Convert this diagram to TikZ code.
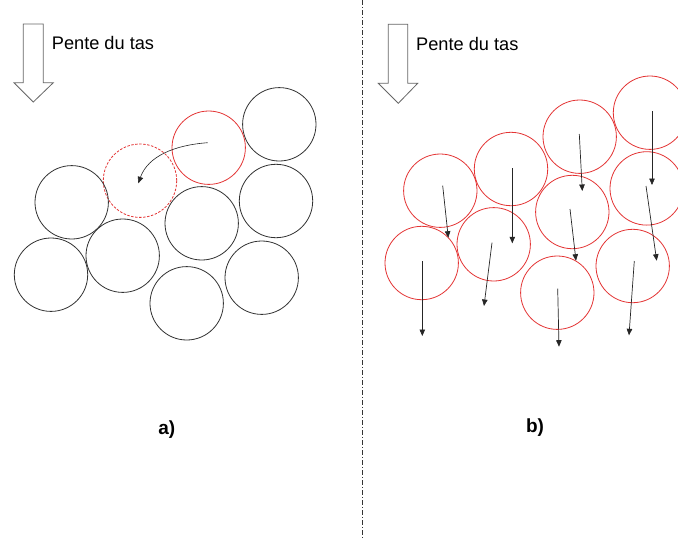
\documentclass[tikz,border=0pt]{standalone}
\usepackage{fontspec}
\setmainfont{Liberation Sans}
\usetikzlibrary{arrows.meta}
\definecolor{gred}{RGB}{228,52,52}
\definecolor{gblk}{RGB}{50,50,50}
\begin{document}
\begin{tikzpicture}[x=1pt,y=-1pt,
  grain/.style={circle,draw=gblk,line width=0.8pt,minimum size=73.4pt,inner sep=0pt},
  rgrain/.style={grain,draw=gred},
  dgrain/.style={grain,draw=gred,dashed,dash pattern=on 2.5pt off 1.5pt},
  flow/.style={-{Triangle[length=6.5pt,width=5.5pt]},line width=0.7pt,black!85},
  slope/.style={draw=black!60,line width=0.8pt,fill=white},
  lbl/.style={anchor=base west,font=\fontsize{18.2}{21}\selectfont,inner sep=0pt},
  sub/.style={font=\bfseries\fontsize{19}{22}\selectfont,inner sep=0pt}]
\useasboundingbox (0,0) rectangle (678,539);
\clip (0,0) rectangle (678,539);
\fill[white] (0,0) rectangle (678,539);
% separator
\coordinate (sepT) at (362.3,0);
\coordinate (sepB) at (362.3,539);
\draw[black!80,line width=0.8pt,dash pattern=on 5pt off 2pt on 1pt off 2pt] (sepT) -- (sepB);
% slope arrows
\draw[slope] (23.3,24) -- (43.3,24) -- (43.3,82.7) -- (53.3,82.7) -- (33.3,102) -- (14,82.7) -- (23.3,82.7) -- cycle;
\node[lbl] (ta) at (51.7,49.3) {Pente du tas};
\draw[slope] (388.3,24.3) -- (407.7,24.3) -- (407.7,83.3) -- (417.7,83.3) -- (398.3,103.3) -- (378.3,83.3) -- (388.3,83.3) -- cycle;
\node[lbl] (tb) at (416,50) {Pente du tas};
% panel a
\node[grain] (a1) at (279.3,124.3) {};
\node[rgrain] (a2) at (208.7,147.7) {};
\node[dgrain] (a3) at (140,180.7) {};
\node[grain] (a4) at (71.7,202.3) {};
\node[grain] (a5) at (201.7,223.3) {};
\node[grain] (a6) at (276,201) {};
\node[grain] (a7) at (51,274.7) {};
\node[grain] (a8) at (122.7,255.7) {};
\node[grain] (a9) at (186.7,303.3) {};
\node[grain] (a10) at (261.7,277.7) {};
\coordinate (ma) at (207.7,142.7);
\coordinate (mb) at (138.3,183.3);
\draw[flow,line width=0.6pt] (ma) .. controls (175,145) and (148,156) .. (mb);
\node[sub] (la) at (166.7,430) {a)};
% panel b
\node[rgrain] (b1) at (650,112.7) {};
\node[rgrain] (b2) at (579.7,136.7) {};
\node[rgrain] (b3) at (511,169) {};
\node[rgrain] (b4) at (440.3,190.7) {};
\node[rgrain] (b5) at (572.3,212) {};
\node[rgrain] (b6) at (646.7,188.4) {};
\node[rgrain] (b7) at (421.7,263) {};
\node[rgrain] (b8) at (493.7,244.3) {};
\node[rgrain] (b9) at (557.3,292.7) {};
\node[rgrain] (b10) at (632.7,266) {};
\coordinate (s1) at (652,111); \coordinate (e1) at (652,185);
\coordinate (s2) at (579.3,134); \coordinate (e2) at (582.3,191);
\coordinate (s3) at (512.3,168.3); \coordinate (e3) at (512.3,243.3);
\coordinate (s4) at (442.7,185.7); \coordinate (e4) at (448.3,237.7);
\coordinate (s5) at (570,209); \coordinate (e5) at (576,260.7);
\coordinate (s6) at (646,186); \coordinate (e6) at (656.7,260.7);
\coordinate (s7) at (422.3,261); \coordinate (e7) at (422.3,336);
\coordinate (s8) at (492,242.7); \coordinate (e8) at (484,306);
\coordinate (s9) at (557.7,288.7); \coordinate (e9) at (559,346.7);
\coordinate (s10) at (634.3,261); \coordinate (e10) at (629,335.3);
\foreach \i in {1,...,10} {\draw[flow] (s\i) -- (e\i);}
\node[sub] (lb) at (535,428) {b)};
\end{tikzpicture}
\end{document}
